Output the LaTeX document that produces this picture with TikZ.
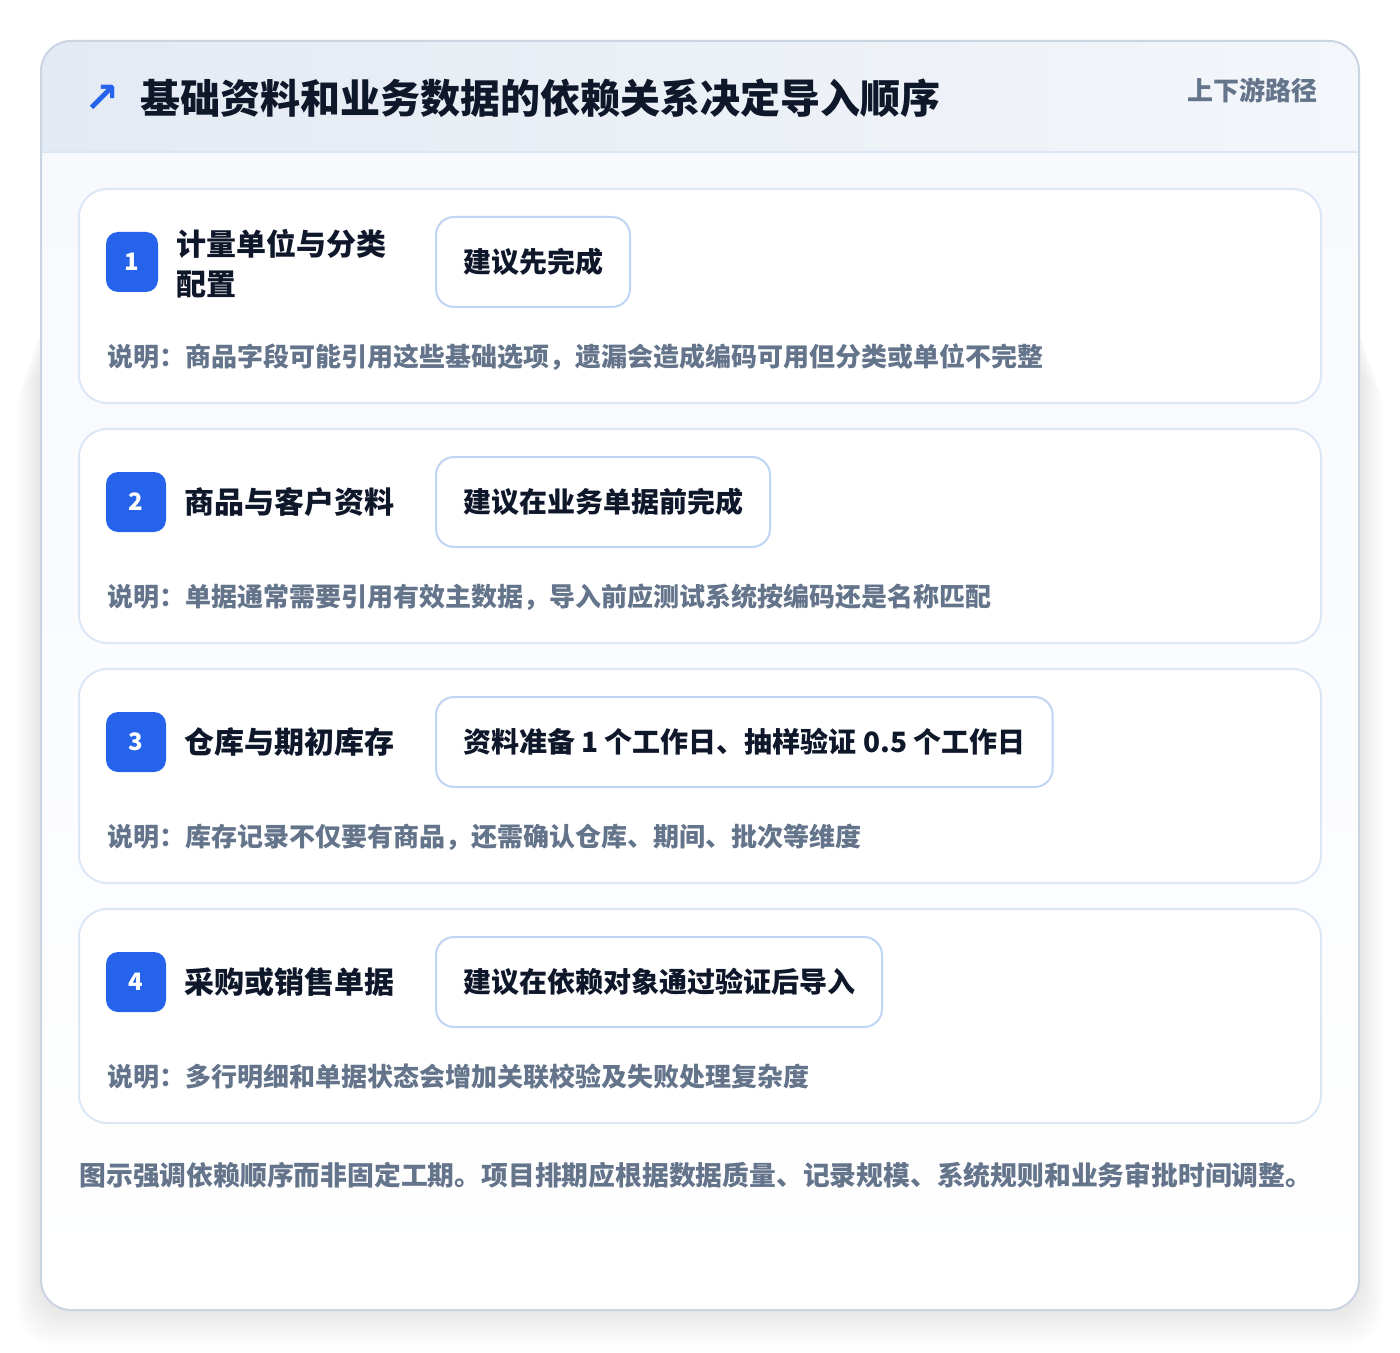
\documentclass[tikz,border=0pt]{standalone}
\usepackage{fontspec}
\setmainfont{Noto Sans CJK SC}
\newfontfamily\symfont{DejaVu Sans}
\usetikzlibrary{positioning}

\definecolor{inkdark}{HTML}{0F172A}
\definecolor{inkgray}{HTML}{64748B}
\definecolor{accent}{HTML}{2563EB}
\definecolor{cardline}{HTML}{DCE7F6}
\definecolor{pillline}{HTML}{BFD5F4}
\definecolor{frameline}{HTML}{CBD5E1}
\definecolor{headleft}{HTML}{E4EAF3}
\definecolor{headright}{HTML}{F3F6FA}
\definecolor{bodytop}{HTML}{F7F9FC}

\tikzset{
	card/.style={draw=cardline, line width=1pt, fill=white, rounded corners=14pt},
	badge/.style={fill=accent, rounded corners=6pt, text=white, inner sep=0pt,
		font=\fontsize{12pt}{14pt}\selectfont\bfseries, minimum height=30pt, minimum width=30pt},
	steptitle/.style={anchor=west, inner sep=0pt, align=left, text=inkdark,
		font=\fontsize{15pt}{20pt}\selectfont\bfseries},
	pill/.style={anchor=west, draw=pillline, line width=1pt, fill=white, rounded corners=9pt,
		minimum height=45pt, inner xsep=13.5pt, text=inkdark,
		font=\fontsize{14pt}{16pt}\selectfont\bfseries},
	note/.style={anchor=west, inner sep=0pt, text=inkgray,
		font=\fontsize{13pt}{15pt}\selectfont\bfseries},
}

\begin{document}
\begin{tikzpicture}[x=0.5pt, y=-0.5pt]
		\useasboundingbox (0,0) rectangle (1400,1352);
		\fill[white] (0,0) rectangle (1400,1352);
		% soft shadow under the frame
		\foreach \i in {1,...,12}
			\fill[black, opacity=0.009, rounded corners=18pt] (41-2*\i,300+6*\i) rectangle (1359+2*\i,1310+3*\i);
		% frame and header
		\fill[bodytop, rounded corners=15pt] (41,41) rectangle (1359,1310);
		\begin{scope}
			\clip[rounded corners=15pt] (41,41) rectangle (1359,1310);
			\fill[top color=bodytop, bottom color=white] (41,152) rectangle (1359,1310);
			\fill[left color=headleft, right color=headright] (41,41) rectangle (1359,152);
		\end{scope}
		\draw[cardline, line width=1pt] (41,152) -- (1359,152);
		\draw[frameline, line width=1pt, rounded corners=15pt] (41,41) rectangle (1359,1310);
		\node[text=accent, font=\symfont\bfseries\fontsize{21pt}{23pt}\selectfont] (icon) at (102,99) {↗};
		\node[anchor=west, inner sep=0pt, text=inkdark, font=\fontsize{20pt}{24pt}\selectfont\bfseries] (title) at (140,98) {基础资料和业务数据的依赖关系决定导入顺序};
		\node[anchor=east, inner sep=0pt, text=inkgray, font=\fontsize{13pt}{15pt}\selectfont\bfseries] (tag) at (1318,90) {上下游路径};

		% step 1
		\draw[card] (79,189) rectangle (1321,403);
		\node[badge, minimum width=26pt] (b1) at (132,262) {1};
		\node[steptitle] (t1) at (176,264) {计量单位与分类\\配置};
		\node[pill] (p1) at (435,262) {建议先完成};
		\node[note] (n1) at (107,357) {说明：商品字段可能引用这些基础选项，遗漏会造成编码可用但分类或单位不完整};

		% step 2
		\draw[card] (79,429) rectangle (1321,643);
		\node[badge] (b2) at (136,502) {2};
		\node[steptitle] (t2) at (184,502) {商品与客户资料};
		\node[pill] (p2) at (435,502) {建议在业务单据前完成};
		\node[note] (n2) at (107,597) {说明：单据通常需要引用有效主数据，导入前应测试系统按编码还是名称匹配};

		% step 3
		\draw[card] (79,669) rectangle (1321,883);
		\node[badge] (b3) at (136,742) {3};
		\node[steptitle] (t3) at (184,742) {仓库与期初库存};
		\node[pill] (p3) at (435,742) {资料准备 1 个工作日、抽样验证 0.5 个工作日};
		\node[note] (n3) at (107,837) {说明：库存记录不仅要有商品，还需确认仓库、期间、批次等维度};

		% step 4
		\draw[card] (79,909) rectangle (1321,1123);
		\node[badge] (b4) at (136,982) {4};
		\node[steptitle] (t4) at (184,982) {采购或销售单据};
		\node[pill] (p4) at (435,982) {建议在依赖对象通过验证后导入};
		\node[note] (n4) at (107,1077) {说明：多行明细和单据状态会增加关联校验及失败处理复杂度};

		\node[note, font=\fontsize{13.4pt}{15pt}\selectfont\bfseries] (foot) at (79,1175) {图示强调依赖顺序而非固定工期。项目排期应根据数据质量、记录规模、系统规则和业务审批时间调整。};
\end{tikzpicture}
\end{document}
